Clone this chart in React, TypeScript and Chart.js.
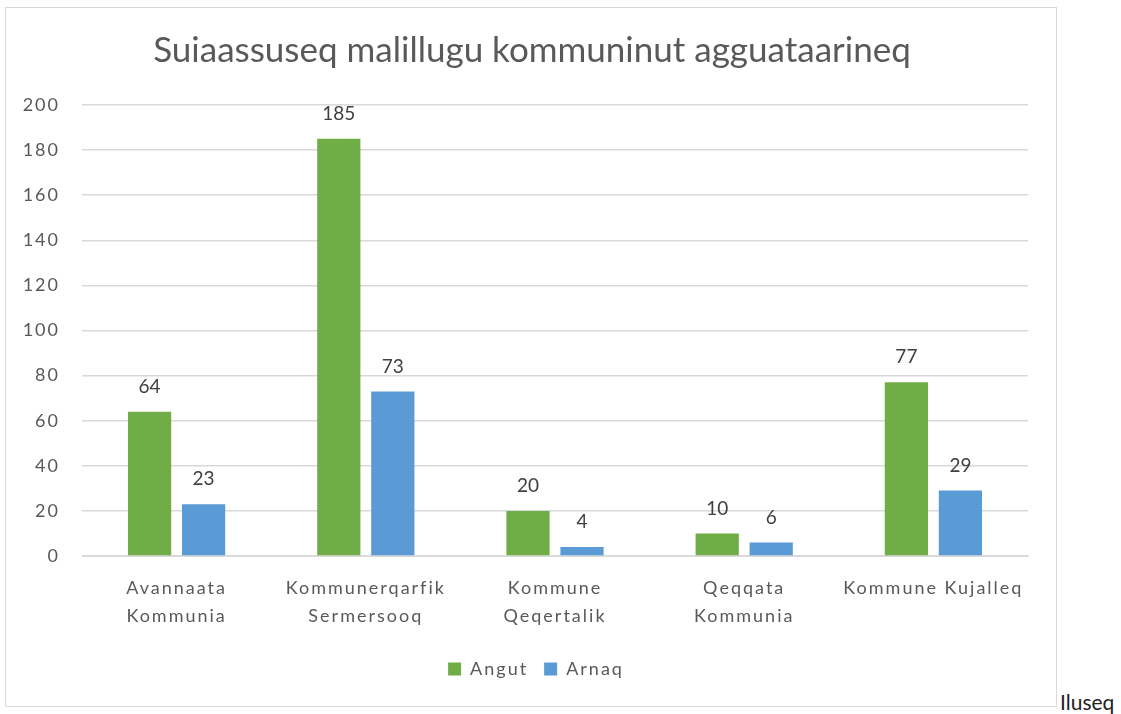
import React, { useEffect, useRef } from "react";
import { Chart, registerables } from "chart.js";

Chart.register(...registerables);

const titleText = "Suiaassuseq malillugu kommuninut agguataarineq";
const categories: (string | string[])[] = [
  ["Avannaata", "Kommunia"],
  ["Kommunerqarfik", "Sermersooq"],
  ["Kommune", "Qeqertalik"],
  ["Qeqqata", "Kommunia"],
  "Kommune Kujalleq",
];
const angut = [64, 185, 20, 10, 77];
const arnaq = [23, 73, 4, 6, 29];
const seriesNames = ["Angut", "Arnaq"];
const colors = ["#70ad47", "#5b9bd5"];
const yTicks = [0, 20, 40, 60, 80, 100, 120, 140, 160, 180, 200];

const FONT = "Lato, 'Open Sans', sans-serif";
const TEXT = "#595959";
const SPACING = "2px";

const spacingPlugin = {
  id: "spacing",
  beforeUpdate(chart: any) {
    chart.ctx.letterSpacing = SPACING;
  },
  beforeLayout(chart: any) {
    chart.ctx.letterSpacing = SPACING;
  },
  afterLayout(chart: any) {
    if (chart.legend) {
      chart.legend.left = 38;
    }
  },
  beforeDraw(chart: any) {
    chart.ctx.letterSpacing = SPACING;
  },
};

const titleAndLabels = {
  id: "titleAndLabels",
  afterDatasetsDraw(chart: any) {
    const ctx = chart.ctx;
    ctx.save();
    ctx.letterSpacing = "0px";
    ctx.font = `19px ${FONT}`;
    ctx.fillStyle = "#404040";
    ctx.textAlign = "center";
    ctx.textBaseline = "middle";
    chart.data.datasets.forEach((ds: any, i: number) => {
      const meta = chart.getDatasetMeta(i);
      meta.data.forEach((el: any, j: number) => {
        ctx.fillText(String(ds.data[j]), el.x, el.y - 25);
      });
    });
    ctx.restore();
  },
  afterDraw(chart: any) {
    const ctx = chart.ctx;
    ctx.save();
    ctx.letterSpacing = "0px";
    ctx.font = `35px ${FONT}`;
    ctx.fillStyle = TEXT;
    ctx.textAlign = "center";
    ctx.textBaseline = "alphabetic";
    ctx.fillText(titleText, 526, 54);
    ctx.restore();
  },
};

export default function App() {
  const ref = useRef<HTMLCanvasElement>(null);
  useEffect(() => {
    if (!ref.current) return;
    const chart = new Chart(ref.current, {
      type: "bar",
      data: {
        labels: categories,
        datasets: [
          { label: seriesNames[0], data: angut, backgroundColor: colors[0] },
          { label: seriesNames[1], data: arnaq, backgroundColor: colors[1] },
        ],
      },
      options: {
        animation: false,
        responsive: false,
        maintainAspectRatio: false,
        layout: { padding: { left: 0, right: 28, top: 97, bottom: 18 } },
        datasets: {
          bar: { categoryPercentage: 0.571, barPercentage: 0.8 },
        } as any,
        plugins: {
          title: { display: false },
          legend: {
            position: "bottom",
            labels: {
              color: TEXT,
              font: { family: FONT, size: 18 },
              boxWidth: 13,
              boxHeight: 13,
              padding: 16,
            },
          },
          tooltip: { enabled: false },
        },
        scales: {
          x: {
            grid: { display: false, drawTicks: false },
            border: { display: true, color: "#d9d9d9" },
            ticks: {
              color: TEXT,
              font: { family: FONT, size: 18, lineHeight: 1.55 },
              padding: 18,
              autoSkip: false,
              maxRotation: 0,
            },
            afterFit(scale: any) {
              scale.height = 88;
            },
          },
          y: {
            min: 0,
            max: 200,
            afterBuildTicks(scale: any) {
              scale.ticks = yTicks.map((v) => ({ value: v }));
            },
            grid: { color: "#d9d9d9", drawTicks: false, lineWidth: 1.5 },
            border: { display: false },
            ticks: {
              color: TEXT,
              font: { family: FONT, size: 18 },
              padding: 22,
            },
            afterFit(scale: any) {
              scale.width = 76;
            },
          },
        },
      },
      plugins: [spacingPlugin, titleAndLabels],
    });
    return () => chart.destroy();
  }, []);

  return (
    <div style={{ position: "absolute", left: 0, top: 0, width: 1121, height: 714 }}>
      <div
        style={{
          position: "absolute",
          left: 5,
          top: 7,
          width: 1052,
          height: 700,
          border: "1px solid #d9d9d9",
          boxSizing: "border-box",
          background: "#fff",
        }}
      >
        <canvas ref={ref} width={1050} height={698} style={{ display: "block" }} />
      </div>
      <span
        style={{
          position: "absolute",
          left: 1060,
          top: 689,
          fontFamily: FONT,
          fontSize: 21,
          color: "#222",
          lineHeight: "25px",
        }}
      >
        Iluseq
      </span>
    </div>
  );
}
